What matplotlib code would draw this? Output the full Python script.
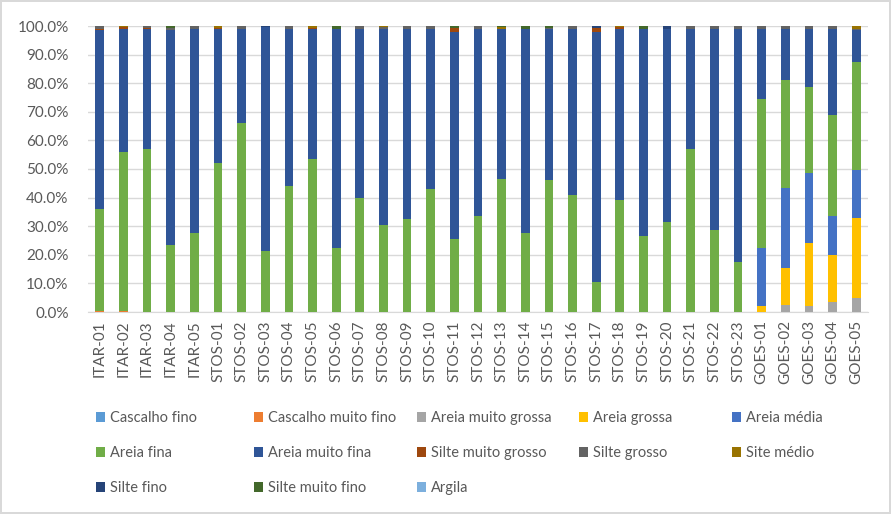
import matplotlib
matplotlib.use("Agg")
import matplotlib.pyplot as plt
import numpy as np
from matplotlib.patches import Patch

plt.rcParams['font.family'] = ['Lato', 'DejaVu Sans']

samples = ["ITAR-01", "ITAR-02", "ITAR-03", "ITAR-04", "ITAR-05",
           "STOS-01", "STOS-02", "STOS-03", "STOS-04", "STOS-05", "STOS-06",
           "STOS-07", "STOS-08", "STOS-09", "STOS-10", "STOS-11", "STOS-12",
           "STOS-13", "STOS-14", "STOS-15", "STOS-16", "STOS-17", "STOS-18",
           "STOS-19", "STOS-20", "STOS-21", "STOS-22", "STOS-23",
           "GOES-01", "GOES-02", "GOES-03", "GOES-04", "GOES-05"]

cascalho_fino = [0]*33
cascalho_muito_fino = [0.4, 0.4] + [0]*31
areia_muito_grossa = [0]*28 + [0, 2.5, 2.0, 3.5, 5.0]
areia_grossa = [0]*28 + [2.0, 13.0, 22.0, 16.5, 28.0]
areia_media = [0]*28 + [20.5, 28.0, 24.5, 13.5, 16.5]
areia_fina = [35.6, 55.6, 57.0, 23.5, 27.5, 52.0, 66.0, 21.5, 44.0, 53.5, 22.5,
              40.0, 30.5, 32.5, 43.0, 25.5, 33.5, 46.5, 27.5, 46.0, 41.0, 10.5,
              39.0, 26.5, 31.5, 57.0, 28.5, 17.5, 52.0, 37.5, 30.0, 35.5, 38.0]
areia_muito_fina = [62.5, 43.0, 42.0, 75.0, 71.5, 47.0, 33.0, 78.0, 55.0, 45.3, 76.5,
                    59.0, 68.5, 66.5, 56.0, 72.5, 65.5, 52.5, 71.5, 53.0, 58.0, 87.5,
                    60.0, 72.5, 67.5, 42.0, 70.5, 81.5, 24.5, 18.0, 20.5, 30.0, 11.0]
silte_muito_grosso = [0.6, 0.5, 0.4, 0, 0, 0.4, 0, 0, 0, 0.6, 0,
                      0, 0, 0, 0, 1.2, 0, 0, 0, 0, 0, 1.2,
                      0.6, 0, 0, 0, 0, 0, 0, 0, 0, 0, 0]
silte_grosso = [0.9, 0, 0.6, 0.7, 1.0, 0, 1.0, 0, 1.0, 0, 0,
                1.0, 0.5, 1.0, 1.0, 0, 1.0, 0, 0, 0.4, 1.0, 0,
                0, 0, 0, 1.0, 1.0, 1.0, 1.0, 1.0, 1.0, 1.0, 0.5]
site_medio = [0, 0.5, 0, 0, 0, 0.6, 0, 0, 0, 0.6, 0,
              0, 0.5, 0, 0, 0, 0, 0.5, 0, 0, 0, 0,
              0.4, 0, 0, 0, 0, 0, 0, 0, 0, 0, 1.0]
silte_fino = [0, 0, 0, 0, 0, 0, 0, 0.5, 0, 0, 0,
              0, 0, 0, 0, 0, 0, 0, 0, 0, 0, 0.8,
              0, 0, 1.0, 0, 0, 0, 0, 0, 0, 0, 0]
silte_muito_fino = [0, 0, 0, 0.8, 0, 0, 0, 0, 0, 0, 1.0,
                    0, 0, 0, 0, 0.8, 0, 0.5, 1.0, 0.6, 0, 0,
                    0, 1.0, 0, 0, 0, 0, 0, 0, 0, 0, 0]
argila = [0]*33

series_names = ["Cascalho fino", "Cascalho muito fino", "Areia muito grossa",
                "Areia grossa", "Areia média", "Areia fina", "Areia muito fina",
                "Silte muito grosso", "Silte grosso", "Site médio", "Silte fino",
                "Silte muito fino", "Argila"]
series_values = [cascalho_fino, cascalho_muito_fino, areia_muito_grossa,
                 areia_grossa, areia_media, areia_fina, areia_muito_fina,
                 silte_muito_grosso, silte_grosso, site_medio, silte_fino,
                 silte_muito_fino, argila]
colors = ["#5B9BD5", "#ED7D31", "#A5A5A5", "#FFC000", "#4472C4", "#70AD47",
          "#2F5597", "#9E480E", "#636363", "#997300", "#264478", "#43682B",
          "#7CAFDD"]

yticks = [0, 10, 20, 30, 40, 50, 60, 70, 80, 90, 100]
ytick_labels = ["0.0%", "10.0%", "20.0%", "30.0%", "40.0%", "50.0%", "60.0%",
                "70.0%", "80.0%", "90.0%", "100.0%"]

data = np.array(series_values, dtype=float)
totals = data.sum(axis=0)
pct = data / totals * 100

fig = plt.figure(figsize=(8.91, 5.14), dpi=100)
fig.patch.set_facecolor("white")
fig.patch.set_edgecolor("#D9D9D9")
fig.patch.set_linewidth(1.5)

ax = fig.add_axes([88/891, 1 - 312/514, 780/891, 286/514])
x = np.arange(len(samples))
bottom = np.zeros(len(samples))
for name, vals, c in zip(series_names, pct, colors):
    ax.bar(x, vals, bottom=bottom, width=0.37, color=c, label=name, zorder=3)
    bottom += vals

ax.set_xlim(-0.5, len(samples) - 0.5)
ax.set_ylim(0, 100)
ax.set_yticks(yticks)
ax.set_yticklabels(ytick_labels)
ax.set_xticks(x)
ax.set_xticklabels(samples, rotation=90)
ax.tick_params(axis='both', length=0, colors="#595959", labelsize=11)
ax.tick_params(axis='y', pad=14)
ax.tick_params(axis='x', pad=6)
ax.grid(axis='y', color="#D9D9D9", linewidth=1, zorder=0)
for s in ["top", "right", "left"]:
    ax.spines[s].set_visible(False)
ax.spines["bottom"].set_color("#D9D9D9")

handles = [Patch(facecolor=c) for c in colors]
col_x = [90, 248, 411, 573, 726]
for ci in range(5):
    idx = [i for i in (ci, ci + 5, ci + 10) if i < len(series_names)]
    fig.legend([handles[i] for i in idx], [series_names[i] for i in idx],
               loc="upper left", bbox_to_anchor=(col_x[ci]/891, 1 - 405/514),
               frameon=False, fontsize=10.5, handlelength=0.65, handleheight=0.65,
               handletextpad=0.35, labelspacing=1.46, borderaxespad=0,
               labelcolor="#595959")

fig.savefig("out.png", dpi=100)
